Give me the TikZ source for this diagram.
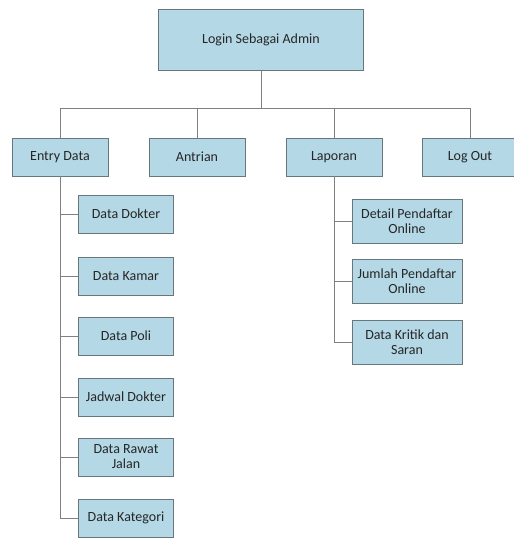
\documentclass[tikz,border=0pt]{standalone}
\usepackage{fontspec}
\setmainfont{Carlito}
\definecolor{boxblue}{RGB}{180,216,229}
\definecolor{boxline}{RGB}{105,118,124}
\definecolor{wire}{RGB}{128,128,128}
\begin{document}
\begin{tikzpicture}[x=1pt,y=-1pt,
    menu/.style={draw=boxline, fill=boxblue, thick, inner sep=0pt, align=center,
      font=\fontsize{14}{15}\selectfont, text=black!85},
    wide/.style={menu, minimum width=96pt, minimum height=38pt},
    sub/.style={menu, minimum width=95pt, minimum height=38pt},
    subtall/.style={menu, minimum width=110pt, minimum height=44pt},
    wire/.style={draw=wire, thick}]
      \useasboundingbox (0,0) rectangle (514,539);
      \node[menu, minimum width=205pt, minimum height=61pt] (login) at (261,40) {Login Sebagai Admin};
      % menu utama
      \node[wide] (entry) at (60,157) {Entry Data};
      \node[wide] (antrian) at (197,157) {Antrian};
      \node[wide] (laporan) at (334,157) {Laporan};
      \node[wide] (logout) at (470,157) {Log Out};
      \draw[wire] (login.south) -- ++(0,37) coordinate (bus);
      \draw[wire] (entry.north) |- (bus);
      \draw[wire] (antrian.north) |- (bus);
      \draw[wire] (laporan.north) |- (bus);
      \draw[wire] (logout.north) |- (bus);
      % entry data
      \node[sub] (dokter) at (126,214) {Data Dokter};
      \node[sub] (kamar) at (126,276) {Data Kamar};
      \node[sub] (poli) at (126,336) {Data Poli};
      \node[sub] (jadwal) at (126,397) {Jadwal Dokter};
      \node[sub] (rawat) at (126,457) {Data Rawat\\Jalan};
      \node[sub] (kategori) at (126,518) {Data Kategori};
      \foreach \n in {dokter,kamar,poli,jadwal,rawat,kategori}
        \draw[wire] (entry.south) |- (\n.west);
      % laporan
      \node[subtall] (detail) at (407,221) {Detail Pendaftar\\Online};
      \node[subtall] (jumlah) at (407,281) {Jumlah Pendaftar\\Online};
      \node[subtall] (kritik) at (407,342) {Data Kritik dan\\Saran};
      \foreach \n in {detail,jumlah,kritik}
        \draw[wire] (laporan.south) |- (\n.west);
    \end{tikzpicture}
\end{document}
